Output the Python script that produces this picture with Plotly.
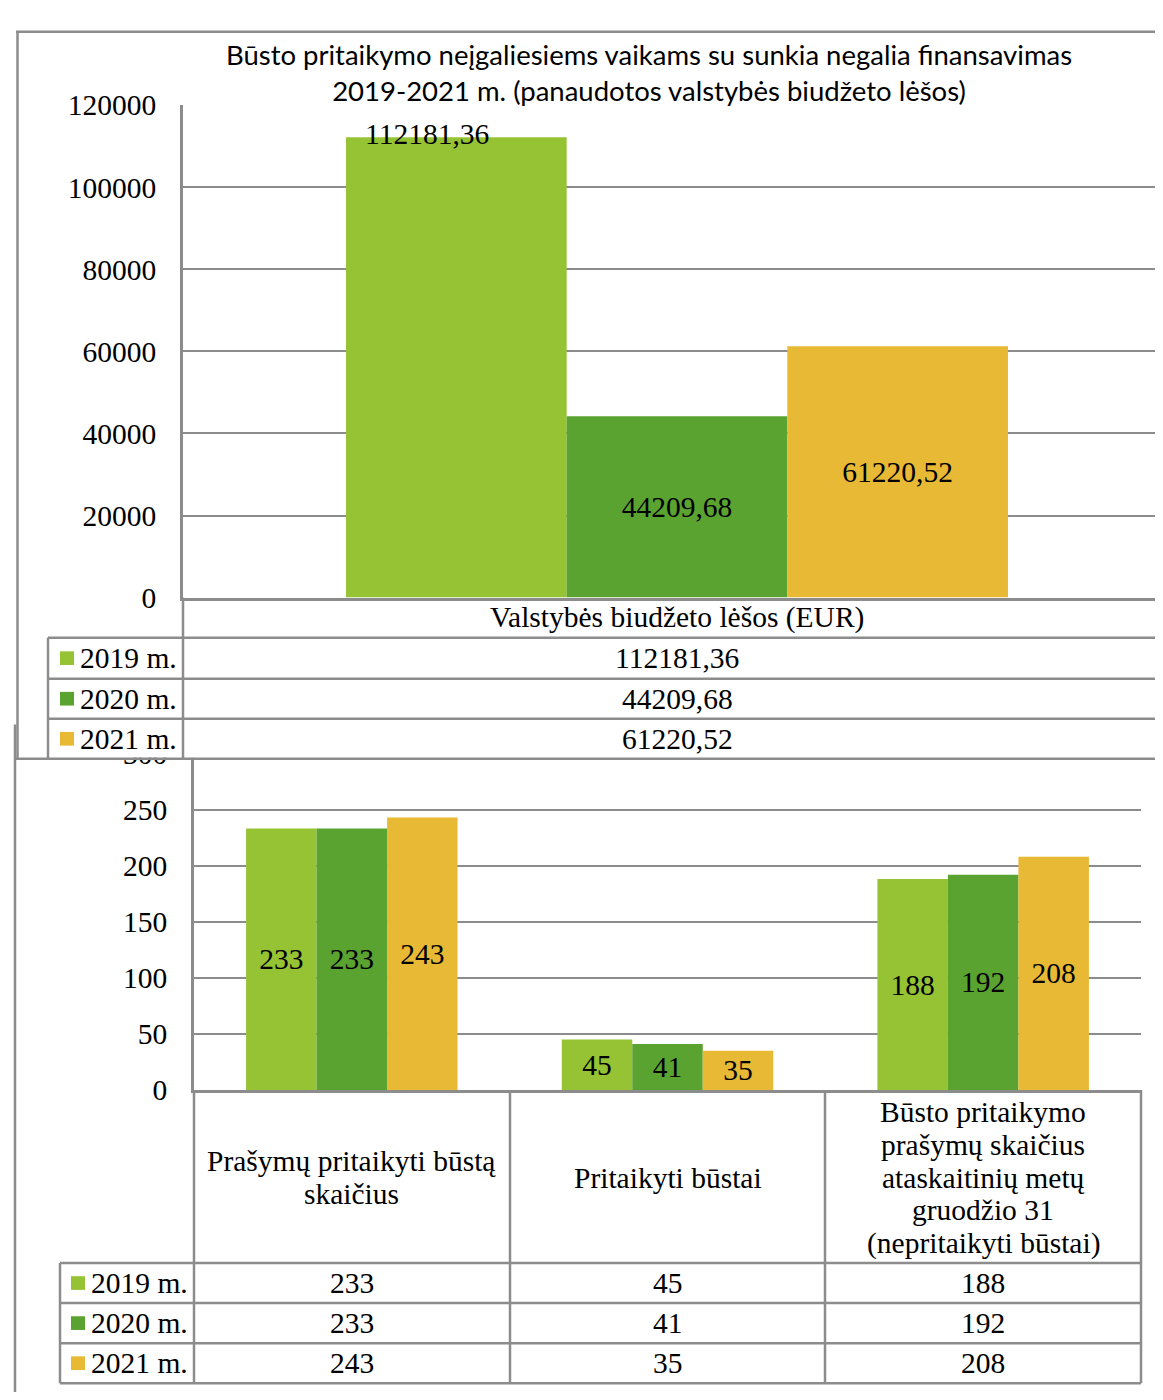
import plotly.graph_objects as go

# ---------------- data ----------------
years = ["2019 m.", "2020 m.", "2021 m."]
year_colors = ["#96c334", "#5ba330", "#e8b934"]

funding_category = ["Valstybės biudžeto lėšos (EUR)"]
funding_2019 = [112181.36]
funding_2020 = [44209.68]
funding_2021 = [61220.52]
funding_ticks = [0, 20000, 40000, 60000, 80000, 100000, 120000]

housing_categories = [
    "Prašymų pritaikyti būstą skaičius",
    "Pritaikyti būstai",
    "Būsto pritaikymo prašymų skaičius ataskaitinių metų gruodžio 31 (nepritaikyti būstai)",
]
housing_header_lines = [
    ["Prašymų pritaikyti būstą", "skaičius"],
    ["Pritaikyti būstai"],
    ["Būsto pritaikymo", "prašymų skaičius", "ataskaitinių metų", "gruodžio 31", "(nepritaikyti būstai)"],
]
housing_2019 = [233, 45, 188]
housing_2020 = [233, 41, 192]
housing_2021 = [243, 35, 208]
housing_ticks = [0, 50, 100, 150, 200, 250, 300]

title_text = ("Būsto pritaikymo neįgaliesiems vaikams su sunkia negalia finansavimas<br>"
              "2019-2021 m. (panaudotos valstybės biudžeto lėšos)")

# ---------------- layout helpers ----------------
W, H = 1163, 1400
SERIF = "Liberation Serif"
FS = 29.5
GRID = "#8c8c8c"
LW = 2.5
BARGAP = 0.33
TOP_X0 = 175          # left edge of the upper plot area (px)


def px(x):
    return x / W


def py(y):
    return 1 - y / H


def eur(v):
    return f"{v:.2f}".replace(".", ",")


fig = go.Figure()

funding_series = [funding_2019, funding_2020, funding_2021]
housing_series = [housing_2019, housing_2020, housing_2021]

for i, (name, col) in enumerate(zip(years, year_colors)):
    fig.add_trace(go.Bar(
        x=funding_category, y=funding_series[i], name=name,
        marker=dict(color=col, line=dict(width=0)),
        text=None if i == 0 else [eur(v) for v in funding_series[i]],
        textposition="inside", insidetextanchor="middle",
        textangle=0, constraintext="none",
        textfont=dict(family=SERIF, size=FS, color="black"),
        xaxis="x", yaxis="y", showlegend=False,
    ))

for i, (name, col) in enumerate(zip(years, year_colors)):
    fig.add_trace(go.Bar(
        x=housing_categories, y=housing_series[i], name=name,
        marker=dict(color=col, line=dict(width=0)),
        text=[str(v) for v in housing_series[i]],
        textposition="inside", insidetextanchor="middle",
        textangle=0, constraintext="none",
        textfont=dict(family=SERIF, size=FS, color="black"),
        xaxis="x2", yaxis="y2", showlegend=False,
    ))

shapes = []
annotations = []

# label of the 2019 funding bar sits on the bar's top edge (as in the source)
bar_w = (1 - BARGAP) * (W - TOP_X0) / 3
annotations.append(dict(xref="x", yref="y", x=funding_category[0], y=funding_2019[0],
                        text=eur(funding_2019[0]), showarrow=False,
                        xanchor="center", yanchor="middle",
                        xshift=-bar_w - 29, yshift=3,
                        font=dict(family=SERIF, size=FS, color="black")))


def hline(x0, x1, y):
    shapes.append(dict(type="line", xref="paper", yref="paper", layer="above",
                       x0=px(x0), x1=px(x1), y0=py(y), y1=py(y),
                       line=dict(color=GRID, width=LW)))


def vline(x, y0, y1):
    shapes.append(dict(type="line", xref="paper", yref="paper", layer="above",
                       x0=px(x), x1=px(x), y0=py(y0), y1=py(y1),
                       line=dict(color=GRID, width=LW)))


def text_at(xref, x, y, txt, xanchor="center"):
    annotations.append(dict(xref=xref, yref="paper", x=x, y=py(y), text=txt,
                            showarrow=False, xanchor=xanchor, yanchor="middle",
                            font=dict(family=SERIF, size=FS, color="black")))


# white area of the upper chart hiding the top of the lower chart
shapes.append(dict(type="rect", xref="paper", yref="paper", layer="above",
                   x0=px(10), x1=1, y0=py(751), y1=py(722),
                   fillcolor="white", line=dict(width=0)))

# ---- upper chart frame and data table ----
vline(9.5, 8, 752)
hline(8, 1163, 8)
vline(TOP_X0, 587, 752)
vline(40, 628, 752)
for yy in (628, 670, 711):
    hline(40, 1163, yy)
hline(6, 1163, 752)

# ---- lower chart frame and data table ----
vline(7, 717, 1400)
vline(1161, 752, 1400)
for xx in (186, 502, 817, 1133):
    vline(xx, 1091, 1391)
vline(52, 1268, 1391)
for yy in (1268, 1309, 1350, 1391):
    hline(52, 1133, yy)

# upper table header and cells
text_at("x", funding_category[0], 607.5, funding_category[0])
top_rows = [628, 670, 711, 752]
for i, name in enumerate(years):
    yc = (top_rows[i] + top_rows[i + 1]) / 2
    text_at("x", funding_category[0], yc, eur(funding_series[i][0]))
    text_at("paper", px(70), yc, name, xanchor="left")
    shapes.append(dict(type="rect", xref="paper", yref="paper", layer="above",
                       x0=px(52), x1=px(66), y0=py(yc + 7), y1=py(yc - 7),
                       fillcolor=year_colors[i], line=dict(width=0)))

# lower table header and cells
HEADER_MID, HEADER_STEP = 1180.5, 33.7
for cat, lines in zip(housing_categories, housing_header_lines):
    n = len(lines)
    for k, ln in enumerate(lines):
        text_at("x2", cat, HEADER_MID + (k - (n - 1) / 2) * HEADER_STEP, ln)
bot_rows = [1268, 1309, 1350, 1391]
for i, name in enumerate(years):
    yc = (bot_rows[i] + bot_rows[i + 1]) / 2
    for cat, v in zip(housing_categories, housing_series[i]):
        text_at("x2", cat, yc, str(v))
    text_at("paper", px(81), yc, name, xanchor="left")
    shapes.append(dict(type="rect", xref="paper", yref="paper", layer="above",
                       x0=px(63), x1=px(77), y0=py(yc + 7), y1=py(yc - 7),
                       fillcolor=year_colors[i], line=dict(width=0)))

fig.update_layout(
    width=W, height=H,
    margin=dict(l=0, r=0, t=0, b=0),
    paper_bgcolor="white", plot_bgcolor="rgba(0,0,0,0)",
    barmode="group", bargap=BARGAP, bargroupgap=0,
    title=dict(text=title_text, x=px(641), xanchor="center", y=py(57), yanchor="middle",
               yref="container", font=dict(family="Lato", size=27.5, color="black")),
    xaxis=dict(domain=[px(TOP_X0), 1], anchor="y", showticklabels=False, ticks="",
               showline=True, linecolor=GRID, linewidth=LW, showgrid=False),
    yaxis=dict(domain=[py(587), py(83)], anchor="x", range=[0, 120000],
               tickvals=funding_ticks, ticktext=[str(t) for t in funding_ticks],
               showgrid=True, gridcolor=GRID, gridwidth=2, zeroline=False,
               showline=True, linecolor=GRID, linewidth=LW, ticks="",
               ticklabelstandoff=18,
               tickfont=dict(family=SERIF, size=FS, color="black")),
    xaxis2=dict(domain=[px(186), px(1133)], anchor="y2", showticklabels=False, ticks="",
                showline=True, linecolor=GRID, linewidth=LW, showgrid=False),
    yaxis2=dict(domain=[py(1091), py(746.5)], anchor="x2", range=[0, 300],
                tickvals=housing_ticks, ticktext=[str(t) for t in housing_ticks],
                showgrid=True, gridcolor=GRID, gridwidth=2, zeroline=False,
                showline=True, linecolor=GRID, linewidth=LW, ticks="",
                ticklabelstandoff=18,
                tickfont=dict(family=SERIF, size=FS, color="black")),
    shapes=shapes,
    annotations=annotations,
)

fig.write_html("out.html")
